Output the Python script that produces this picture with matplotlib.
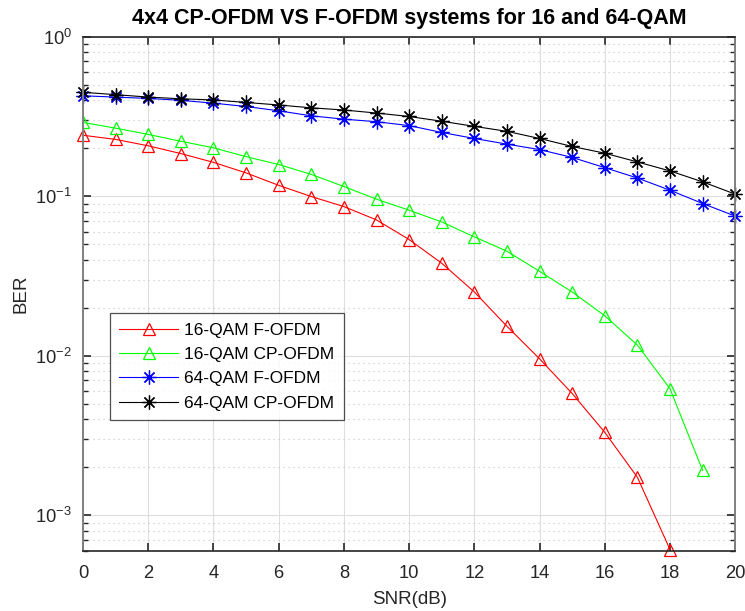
import numpy as np
import matplotlib
matplotlib.use("Agg")
import matplotlib.pyplot as plt
from matplotlib.ticker import LogLocator, NullFormatter, MultipleLocator

plt.rcParams['font.family'] = ['Liberation Sans', 'DejaVu Sans']
plt.rcParams['mathtext.fontset'] = 'custom'
plt.rcParams['mathtext.rm'] = 'Liberation Sans'
plt.rcParams['mathtext.it'] = 'Liberation Sans'

snr = list(range(0, 21))

ber_16_f = [0.241, 0.227, 0.207, 0.185, 0.163, 0.140, 0.117, 0.0995, 0.0861, 0.071,
            0.0535, 0.038, 0.0251, 0.0153, 0.00957, 0.0058, 0.00331, 0.00173, 0.00061]
ber_16_cp = [0.290, 0.267, 0.244, 0.221, 0.201, 0.177, 0.158, 0.137, 0.115, 0.0958,
             0.0817, 0.069, 0.0556, 0.0452, 0.0338, 0.0251, 0.0178, 0.01166, 0.00621, 0.00191]
ber_64_f = [0.426, 0.418, 0.410, 0.399, 0.383, 0.365, 0.343, 0.319, 0.304, 0.293,
            0.277, 0.251, 0.230, 0.212, 0.196, 0.175, 0.151, 0.130, 0.109, 0.090, 0.075]
ber_64_cp = [0.448, 0.433, 0.418, 0.408, 0.401, 0.387, 0.373, 0.358, 0.347, 0.332,
             0.316, 0.295, 0.274, 0.255, 0.230, 0.205, 0.186, 0.164, 0.144, 0.123, 0.103]

labels = ['16-QAM F-OFDM', '16-QAM CP-OFDM', '64-QAM F-OFDM', '64-QAM CP-OFDM']
title = '4x4 CP-OFDM VS F-OFDM systems for 16 and 64-QAM'

fig = plt.figure(figsize=(7.45, 6.11), dpi=100)
ax = fig.add_axes([0.1114, 0.0987, 0.8755, 0.8413])

axc = '#262626'
lw = 0.8
asterisk = (8, 2, 0)
ax.plot(snr[:len(ber_16_f)], ber_16_f, color='red', marker='^', mfc='none', ms=9, mew=0.9, lw=lw, label=labels[0], clip_on=False)
ax.plot(snr[:len(ber_16_cp)], ber_16_cp, color=(0, 1, 0), marker='^', mfc='none', ms=9, mew=0.9, lw=lw, label=labels[1])
ax.plot(snr, ber_64_f, color='blue', marker=asterisk, ms=10, mew=0.9, lw=lw, label=labels[2], clip_on=False)
ax.plot(snr, ber_64_cp, color='black', marker=asterisk, ms=10, mew=0.9, lw=lw, label=labels[3], clip_on=False)

ax.set_yscale('log')
ax.set_xlim(0, 20)
ax.set_ylim(6.0e-4, 1)
ax.xaxis.set_major_locator(MultipleLocator(2))
ax.yaxis.set_major_locator(LogLocator(base=10, numticks=10))
ax.yaxis.set_minor_locator(LogLocator(base=10, subs=np.arange(2, 10), numticks=20))
ax.yaxis.set_minor_formatter(NullFormatter())

ax.grid(True, which='major', color='#dedede', linestyle='-', linewidth=0.8)
ax.grid(True, which='minor', axis='y', color='#c4c4c4', linestyle=(0, (1, 3.5)), linewidth=0.8)
ax.set_axisbelow(True)

for k, s in ax.spines.items():
    s.set_color(axc)
    s.set_linewidth(1.2)
ax.spines['left'].set_color('#808080')
ax.spines['right'].set_color('#808080')
ax.spines['left'].set_linewidth(1.4)
ax.spines['right'].set_linewidth(1.4)
ax.tick_params(axis='both', which='major', direction='in', length=6, width=1.2, color=axc,
               labelsize=13.2, labelcolor=axc, top=True, right=True)
ax.tick_params(axis='x', which='major', pad=10)
ax.tick_params(axis='y', which='major', pad=8)
ax.tick_params(axis='y', which='minor', direction='in', length=3.5, width=1.0, color=axc, right=True)

ax.set_xlabel('SNR(dB)', fontsize=13.5, color=axc, labelpad=7)
ax.set_ylabel('BER', fontsize=13.5, color=axc, labelpad=4)
ax.set_title(title, fontsize=15.5, fontweight='bold', color='black', pad=9)

leg = ax.legend(loc='lower left', bbox_to_anchor=(0.041, 0.254), fontsize=12.5, handlelength=3.4,
                frameon=True, fancybox=False, edgecolor=axc, borderpad=0.55, labelspacing=0.52,
                handletextpad=0.35, borderaxespad=0)
leg.get_frame().set_linewidth(0.9)
for t in leg.get_texts():
    t.set_color('black')

fig.savefig('out.png', dpi=100, facecolor='white')
